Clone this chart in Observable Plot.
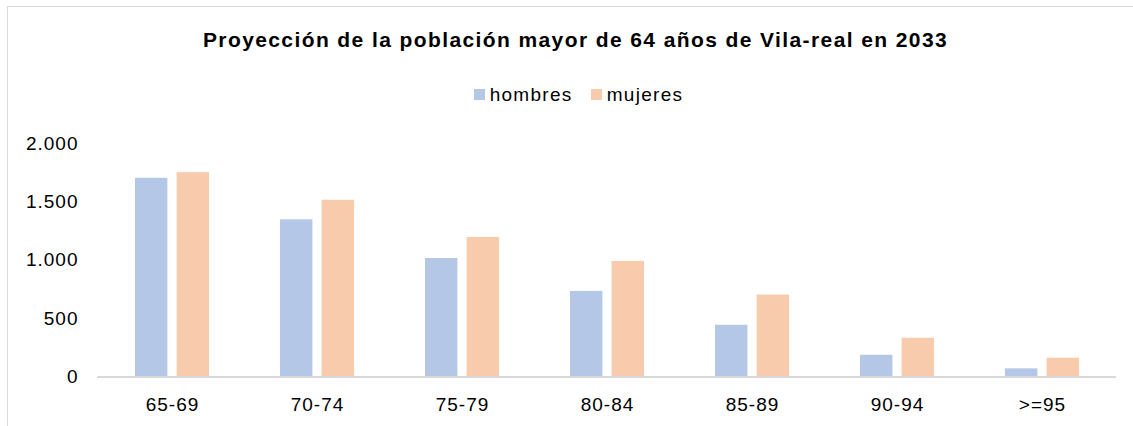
<!DOCTYPE html>
<html>
<head>
<meta charset="utf-8">
<script src="https://cdn.jsdelivr.net/npm/d3@7"></script>
<script src="https://cdn.jsdelivr.net/npm/@observablehq/plot@0.6"></script>
<style>
  html, body { margin: 0; padding: 0; background: #fff; overflow: hidden; }
  body { width: 1133px; height: 426px; position: relative; font-family: "Liberation Sans", Arial, sans-serif; }
  #frame { position: absolute; left: 7px; top: 6px; width: 1200px; height: 500px; border-left: 1.5px solid #d9d9d9; border-top: 1.5px solid #d9d9d9; }
  #title { position: absolute; left: 9px; width: 1133px; top: 28px; text-align: center; font-weight: bold; font-size: 21px; letter-spacing: 1.4px; color: #000; line-height: 24px; }
  #legend { position: absolute; left: 12px; width: 1133px; top: 83px; text-align: center; font-size: 19px; letter-spacing: 1.3px; color: #000; line-height: 22px; }
  .item { display: inline-flex; align-items: center; margin: 0 9px; }
  .sw { display: inline-block; width: 11px; height: 11px; margin-right: 5px; }
  #chart { position: absolute; left: 0; top: 120px; }
</style>
</head>
<body>
<div id="frame"></div>
<div id="title">Proyección de la población mayor de 64 años de Vila-real en 2033</div>
<div id="legend"></div>
<div id="chart"></div>
<script>
const categories = ["65-69", "70-74", "75-79", "80-84", "85-89", "90-94", ">=95"];
const hombres = [1702, 1346, 1015, 733, 443, 186, 70];
const mujeres = [1750, 1514, 1195, 990, 702, 332, 161];
const series = ["hombres", "mujeres"];
const colors = ["#b4c7e7", "#f8cbad"];
const yTicks = [0, 500, 1000, 1500, 2000];

const esFormat = d3.formatLocale({decimal: ",", thousands: ".", grouping: [3], currency: ["", " €"]}).format(",");

const rowsH = categories.map((c, i) => ({categoria: c, serie: "hombres", valor: hombres[i]}));
const rowsM = categories.map((c, i) => ({categoria: c, serie: "mujeres", valor: mujeres[i]}));

// legend
const legend = document.getElementById("legend");
series.forEach((s, i) => {
  const span = document.createElement("span");
  span.className = "item";
  span.innerHTML = `<span class="sw" style="background:${colors[i]}"></span>${s}`;
  legend.appendChild(span);
});

const groupGap = 41.6; // inset so each series takes its half of the category band

const chart = Plot.plot({
  width: 1133,
  height: 300,
  marginTop: 23,
  marginBottom: 43.5,
  marginLeft: 97,
  marginRight: 17,
  style: {fontFamily: "'Liberation Sans', Arial, sans-serif", fontSize: "19px", letterSpacing: "1px", color: "#000", background: "transparent"},
  x: {domain: categories, paddingInner: 0.49, paddingOuter: 0.245, tickSize: 0, tickPadding: 20, label: null},
  y: {domain: [0, 2000], ticks: yTicks, tickFormat: esFormat, tickSize: 0, tickPadding: 19, label: null},
  color: {domain: series, range: colors},
  marks: [
    Plot.barY(rowsH, {x: "categoria", y: "valor", fill: "serie", insetRight: groupGap}),
    Plot.barY(rowsM, {x: "categoria", y: "valor", fill: "serie", insetLeft: groupGap}),
    Plot.ruleY([0], {stroke: "#d9d9d9", strokeWidth: 2})
  ]
});
document.getElementById("chart").appendChild(chart);
</script>
</body>
</html>
